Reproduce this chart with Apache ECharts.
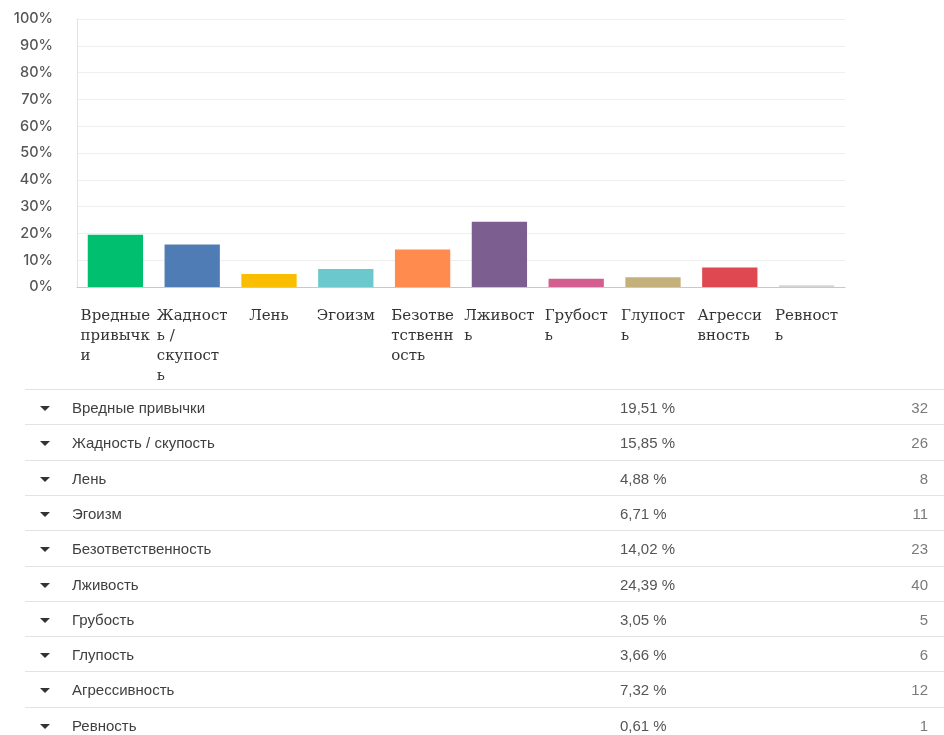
<!DOCTYPE html>
<html>
<head>
<meta charset="utf-8">
<script src="https://cdn.jsdelivr.net/npm/echarts@6/dist/echarts.min.js"></script>
<style>
  html, body { margin: 0; padding: 0; background: #fff; width: 944px; height: 735px; overflow: hidden; }
  #chart { position: absolute; left: 0; top: 0; width: 944px; height: 390px; }
  #table { position: absolute; left: 0; top: 389px; width: 944px; }
  .row { position: absolute; left: 25px; width: 919px; height: 35px; border-top: 1px solid #e3e3e3;
         font-family: "Liberation Sans", Arial, sans-serif; font-size: 15px; }
  .row span { position: absolute; top: 0; line-height: 36px; white-space: nowrap; }
  .caret { left: 15px; top: 16px !important; width: 0; height: 0; border-left: 5px solid transparent;
           border-right: 5px solid transparent; border-top: 5px solid #333; }
  .name { left: 47px; color: #3f3f3f; }
  .pct { left: 595px; color: #555; }
  .cnt { right: 16px; color: #7a7a7a; }
</style>
</head>
<body>
<div id="chart"></div>
<div id="table"></div>
<script>
// Answer options, their share of respondents (%) and the raw counts
const categories = [
  'Вредные привычки', 'Жадность / скупость', 'Лень', 'Эгоизм', 'Безответственность',
  'Лживость', 'Грубость', 'Глупость', 'Агрессивность', 'Ревность'
];
const percents = [19.51, 15.85, 4.88, 6.71, 14.02, 24.39, 3.05, 3.66, 7.32, 0.61];
const counts = [32, 26, 8, 11, 23, 40, 5, 6, 12, 1];
const yTicks = [0, 10, 20, 30, 40, 50, 60, 70, 80, 90, 100];

const palette = ['#00BF6F', '#507CB6', '#F9BE00', '#6BC8CD', '#FF8B4F',
                 '#7D5E90', '#D25F90', '#C4B07B', '#E04851', '#D6D6D6'];

// Greedy wrap into short lines, splitting long words mid-word
function wrap(text, max) {
  const out = [];
  let line = '';
  text.split(' ').forEach(function (w) {
    const cand = line ? line + ' ' + w : w;
    if (cand.length <= max) { line = cand; return; }
    if (line) { out.push(line); line = ''; }
    while (w.length > max) { out.push(w.slice(0, max)); w = w.slice(max); }
    line = w;
  });
  if (line) out.push(line);
  return out;
}

const chart = echarts.init(document.getElementById('chart'), null, { renderer: 'canvas' });
chart.setOption({
  animation: false,
  grid: { left: 77, right: 99, top: 19, bottom: 103, containLabel: false },
  xAxis: {
    type: 'category',
    data: categories,
    axisLine: { lineStyle: { color: '#c8c8c8', width: 1 } },
    axisTick: { show: false },
    axisLabel: {
      interval: 0,
      margin: 19,
      align: 'center',
      verticalAlign: 'top',
      formatter: function (v) {
        return wrap(v, 7).map(function (l) { return '{t|' + l + '}'; }).join('\n');
      },
      rich: {
        t: { align: 'left', fontFamily: '"DejaVu Serif", "Liberation Serif", serif',
             fontSize: 15, lineHeight: 20, color: '#333' }
      }
    }
  },
  yAxis: {
    type: 'value',
    min: yTicks[0],
    max: yTicks[yTicks.length - 1],
    interval: yTicks[1] - yTicks[0],
    axisLine: { show: true, lineStyle: { color: '#e2e2e2', width: 1 } },
    axisTick: { show: false },
    splitLine: { lineStyle: { color: '#efefef', width: 1 } },
    axisLabel: {
      margin: 24,
      formatter: '{value}%',
      fontFamily: 'Inter, "Open Sans", sans-serif',
      fontSize: 14.5,
      fontWeight: 500,
      color: '#555'
    }
  },
  series: [{
    type: 'bar',
    data: percents.map(function (v, i) { return { value: v, itemStyle: { color: palette[i] } }; }),
    barWidth: '72%'
  }]
});

// Summary table under the chart
const table = document.getElementById('table');
categories.forEach(function (name, i) {
  const row = document.createElement('div');
  row.className = 'row';
  row.style.top = (i * 35.3) + 'px';
  row.innerHTML =
    '<span class="caret"></span>' +
    '<span class="name">' + name + '</span>' +
    '<span class="pct">' + percents[i].toFixed(2).replace('.', ',') + ' %</span>' +
    '<span class="cnt">' + counts[i] + '</span>';
  table.appendChild(row);
});
</script>
</body>
</html>
